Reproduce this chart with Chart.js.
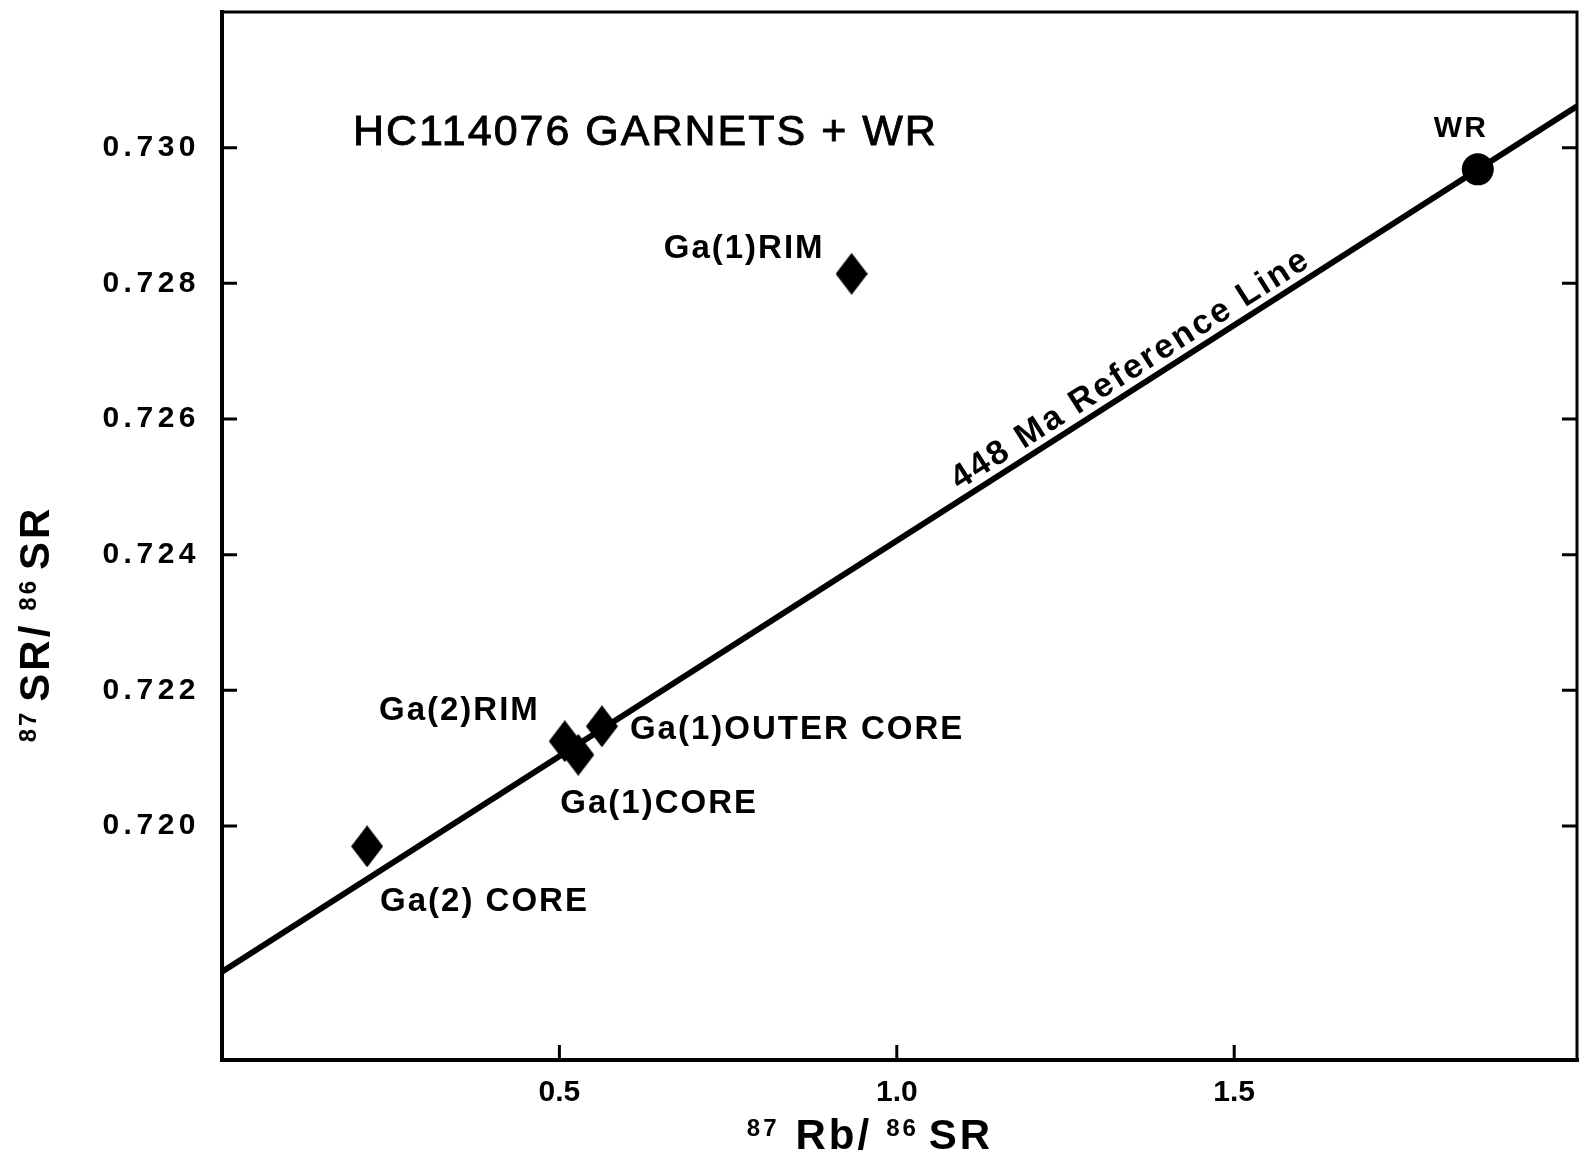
<!DOCTYPE html>
<html>
<head>
<meta charset="utf-8">
<script src="https://cdn.jsdelivr.net/npm/chart.js@4.4.1/dist/chart.umd.min.js"></script>
<style>
  html, body { margin: 0; padding: 0; background: #fff; }
  #wrap { width: 1580px; height: 1153px; }
</style>
</head>
<body>
<div id="wrap"><canvas id="c" width="1580" height="1153"></canvas></div>
<script>
// Garnet fractions: 87Rb/86Sr and 87Sr/86Sr
const sampleNames = ['Ga(1)RIM', 'Ga(2)RIM', 'Ga(1)CORE', 'Ga(1)OUTER CORE', 'Ga(2) CORE'];
const rbSr = [0.933, 0.508, 0.528, 0.563, 0.215];
const srSr = [0.72814, 0.72125, 0.72105, 0.72147, 0.71970];

// Whole rock
const wrName = 'WR';
const wrRbSr = [1.861];
const wrSrSr = [0.72968];

// 448 Ma reference isochron, end points
const refLineX = [0, 2.008];
const refLineY = [0.71785, 0.73061];
const refLineLabel = '448 Ma Reference Line';

// Axes
const xTickValues = [0.5, 1.0, 1.5];
const yTickValues = [0.720, 0.722, 0.724, 0.726, 0.728, 0.730];
const chartTitle = 'HC114076 GARNETS + WR';

const FONT = "'Liberation Sans', Arial, Helvetica, sans-serif";

// label placement relative to each marker (pixels)
const labelPlacement = {
  'Ga(1)RIM':        { dx: -27, dy: -25, align: 'right' },
  'Ga(2)RIM':        { dx: -25, dy: -30, align: 'right' },
  'Ga(1)CORE':       { dx: -18, dy: 49,  align: 'left' },
  'Ga(1)OUTER CORE': { dx: 28,  dy: 4,   align: 'left' },
  'Ga(2) CORE':      { dx: 13,  dy: 56,  align: 'left' },
  'WR':              { dx: -17, dy: -41, align: 'center' }
};

// tall diamond marker
function makeDiamond(w, h) {
  const cv = document.createElement('canvas');
  cv.width = w; cv.height = h;
  const g = cv.getContext('2d');
  g.fillStyle = '#000';
  g.beginPath();
  g.moveTo(w / 2, 0);
  g.lineTo(w, h / 2);
  g.lineTo(w / 2, h);
  g.lineTo(0, h / 2);
  g.closePath();
  g.fill();
  return cv;
}
const diamond = makeDiamond(32, 42);

function drawRich(ctx, parts, x, y, bigSize) {
  // parts drawn left to right, centred on x, baseline y
  let total = 0;
  parts.forEach(p => {
    ctx.font = 'bold ' + p.size + 'px ' + FONT;
    p.w = ctx.measureText(p.t).width;
    total += p.w + (p.gap || 0);
  });
  let cx = x - total / 2;
  parts.forEach(p => {
    ctx.font = 'bold ' + p.size + 'px ' + FONT;
    const rise = p.sup ? (bigSize - p.size) * 0.716 : 0;
    ctx.fillText(p.t, cx, y - rise);
    cx += p.w + (p.gap || 0);
  });
}

const zeroPad = s => {
  s.paddingTop = 0; s.paddingBottom = 0; s.paddingLeft = 0; s.paddingRight = 0;
};

const decor = {
  id: 'decor',
  beforeDraw(chart) {
    // spaced digits on the vertical axis
    chart.ctx.letterSpacing = '4.5px';
  },
  beforeDatasetsDraw(chart) {
    chart.ctx.letterSpacing = '0px';
  },
  afterDraw(chart) {
    const ctx = chart.ctx;
    const a = chart.chartArea;
    const xs = chart.scales.x, ys = chart.scales.y;
    ctx.save();
    ctx.strokeStyle = '#000';
    ctx.fillStyle = '#000';
    ctx.lineCap = 'square';

    // frame
    ctx.lineWidth = 4;
    ctx.beginPath();
    ctx.moveTo(a.left, a.top); ctx.lineTo(a.left, a.bottom); ctx.lineTo(a.right, a.bottom);
    ctx.stroke();
    ctx.lineWidth = 3;
    ctx.beginPath();
    ctx.moveTo(a.left, a.top); ctx.lineTo(a.right, a.top); ctx.lineTo(a.right, a.bottom);
    ctx.stroke();

    // inward tick marks
    ctx.lineCap = 'butt';
    ctx.lineWidth = 3;
    yTickValues.forEach(v => {
      const py = ys.getPixelForValue(v);
      ctx.beginPath();
      ctx.moveTo(a.left, py); ctx.lineTo(a.left + 15, py);
      ctx.moveTo(a.right, py); ctx.lineTo(a.right - 15, py);
      ctx.stroke();
    });
    xTickValues.forEach(v => {
      const px = xs.getPixelForValue(v);
      ctx.beginPath();
      ctx.moveTo(px, a.bottom); ctx.lineTo(px, a.bottom - 15);
      ctx.stroke();
    });

    // sample labels
    ctx.textBaseline = 'middle';
    ctx.letterSpacing = '2px';
    ctx.font = 'bold 33px ' + FONT;
    sampleNames.forEach((n, i) => {
      const p = labelPlacement[n];
      ctx.textAlign = p.align;
      ctx.fillText(n, xs.getPixelForValue(rbSr[i]) + p.dx, ys.getPixelForValue(srSr[i]) + p.dy);
    });
    ctx.font = 'bold 30px ' + FONT;
    ctx.textAlign = 'center';
    const pw = labelPlacement[wrName];
    ctx.fillText(wrName, xs.getPixelForValue(wrRbSr[0]) + pw.dx, ys.getPixelForValue(wrSrSr[0]) + pw.dy);

    // reference line caption, laid along the line
    const x0 = xs.getPixelForValue(refLineX[0]), y0 = ys.getPixelForValue(refLineY[0]);
    const x1 = xs.getPixelForValue(refLineX[1]), y1 = ys.getPixelForValue(refLineY[1]);
    const ang = Math.atan2(y1 - y0, x1 - x0);
    const t = 0.678;
    ctx.save();
    ctx.translate(x0 + (x1 - x0) * t, y0 + (y1 - y0) * t);
    ctx.rotate(ang);
    ctx.letterSpacing = '2.5px';
    ctx.font = 'bold 34px ' + FONT;
    ctx.textAlign = 'center';
    ctx.textBaseline = 'alphabetic';
    ctx.fillText(refLineLabel, 0, -9);
    ctx.restore();

    // title
    ctx.letterSpacing = '2px';
    ctx.font = '43px ' + FONT;
    ctx.textAlign = 'left';
    ctx.textBaseline = 'alphabetic';
    ctx.lineWidth = 0.9;
    ctx.fillText(chartTitle, 353, 145);
    ctx.strokeText(chartTitle, 353, 145);

    // axis titles
    ctx.letterSpacing = '3px';
    ctx.textAlign = 'left';
    drawRich(ctx, [
      { t: '87', size: 24, sup: true, gap: 16 },
      { t: 'Rb/', size: 42, gap: 14 },
      { t: '86', size: 24, sup: true, gap: 10 },
      { t: 'SR', size: 42 }
    ], 870, 1149, 42);

    ctx.save();
    ctx.translate(49, 624);
    ctx.rotate(-Math.PI / 2);
    drawRich(ctx, [
      { t: '87', size: 24, sup: true, gap: 8 },
      { t: 'SR/', size: 42, gap: 12 },
      { t: '86', size: 24, sup: true, gap: 8 },
      { t: 'SR', size: 42 }
    ], 0, 0, 42);
    ctx.restore();

    ctx.letterSpacing = '0px';
    ctx.restore();
  }
};

const garnetPoints = rbSr.map((x, i) => ({ x: x, y: srSr[i] }));
const wrPoints = wrRbSr.map((x, i) => ({ x: x, y: wrSrSr[i] }));
const refPoints = refLineX.map((x, i) => ({ x: x, y: refLineY[i] }));

new Chart(document.getElementById('c'), {
  type: 'scatter',
  data: {
    datasets: [
      {
        label: refLineLabel,
        data: refPoints,
        showLine: true,
        borderColor: '#000',
        borderWidth: 6,
        pointRadius: 0,
        order: 3
      },
      {
        label: 'Garnets',
        data: garnetPoints,
        pointStyle: diamond,
        backgroundColor: '#000',
        order: 2
      },
      {
        label: wrName,
        data: wrPoints,
        pointStyle: 'circle',
        pointRadius: 16,
        backgroundColor: '#000',
        borderColor: '#000',
        borderWidth: 0,
        order: 1
      }
    ]
  },
  options: {
    responsive: false,
    devicePixelRatio: 1,
    animation: false,
    events: [],
    layout: { autoPadding: false, padding: { top: 12, right: 3, left: 0, bottom: 0 } },
    plugins: { legend: { display: false }, tooltip: { enabled: false }, title: { display: false } },
    scales: {
      x: {
        type: 'linear',
        position: 'bottom',
        min: 0,
        max: 2.008,
        afterBuildTicks: s => { s.ticks = xTickValues.map(v => ({ value: v })); },
        afterFit: s => { s.height = 93; zeroPad(s); },
        grid: { display: false, drawTicks: false },
        border: { display: false },
        ticks: {
          z: 1,
          color: '#000',
          padding: 15,
          maxRotation: 0,
          font: { family: FONT, weight: 'bold', size: 30 },
          callback: v => Number(v).toFixed(1)
        }
      },
      y: {
        type: 'linear',
        position: 'left',
        min: 0.71655,
        max: 0.732,
        afterBuildTicks: s => { s.ticks = yTickValues.map(v => ({ value: v })); },
        afterFit: s => { s.width = 222; zeroPad(s); },
        grid: { display: false, drawTicks: false },
        border: { display: false },
        ticks: {
          color: '#000',
          padding: 22,
          font: { family: FONT, weight: 'bold', size: 30 },
          callback: v => Number(v).toFixed(3)
        }
      }
    }
  },
  plugins: [decor]
});
</script>
</body>
</html>
